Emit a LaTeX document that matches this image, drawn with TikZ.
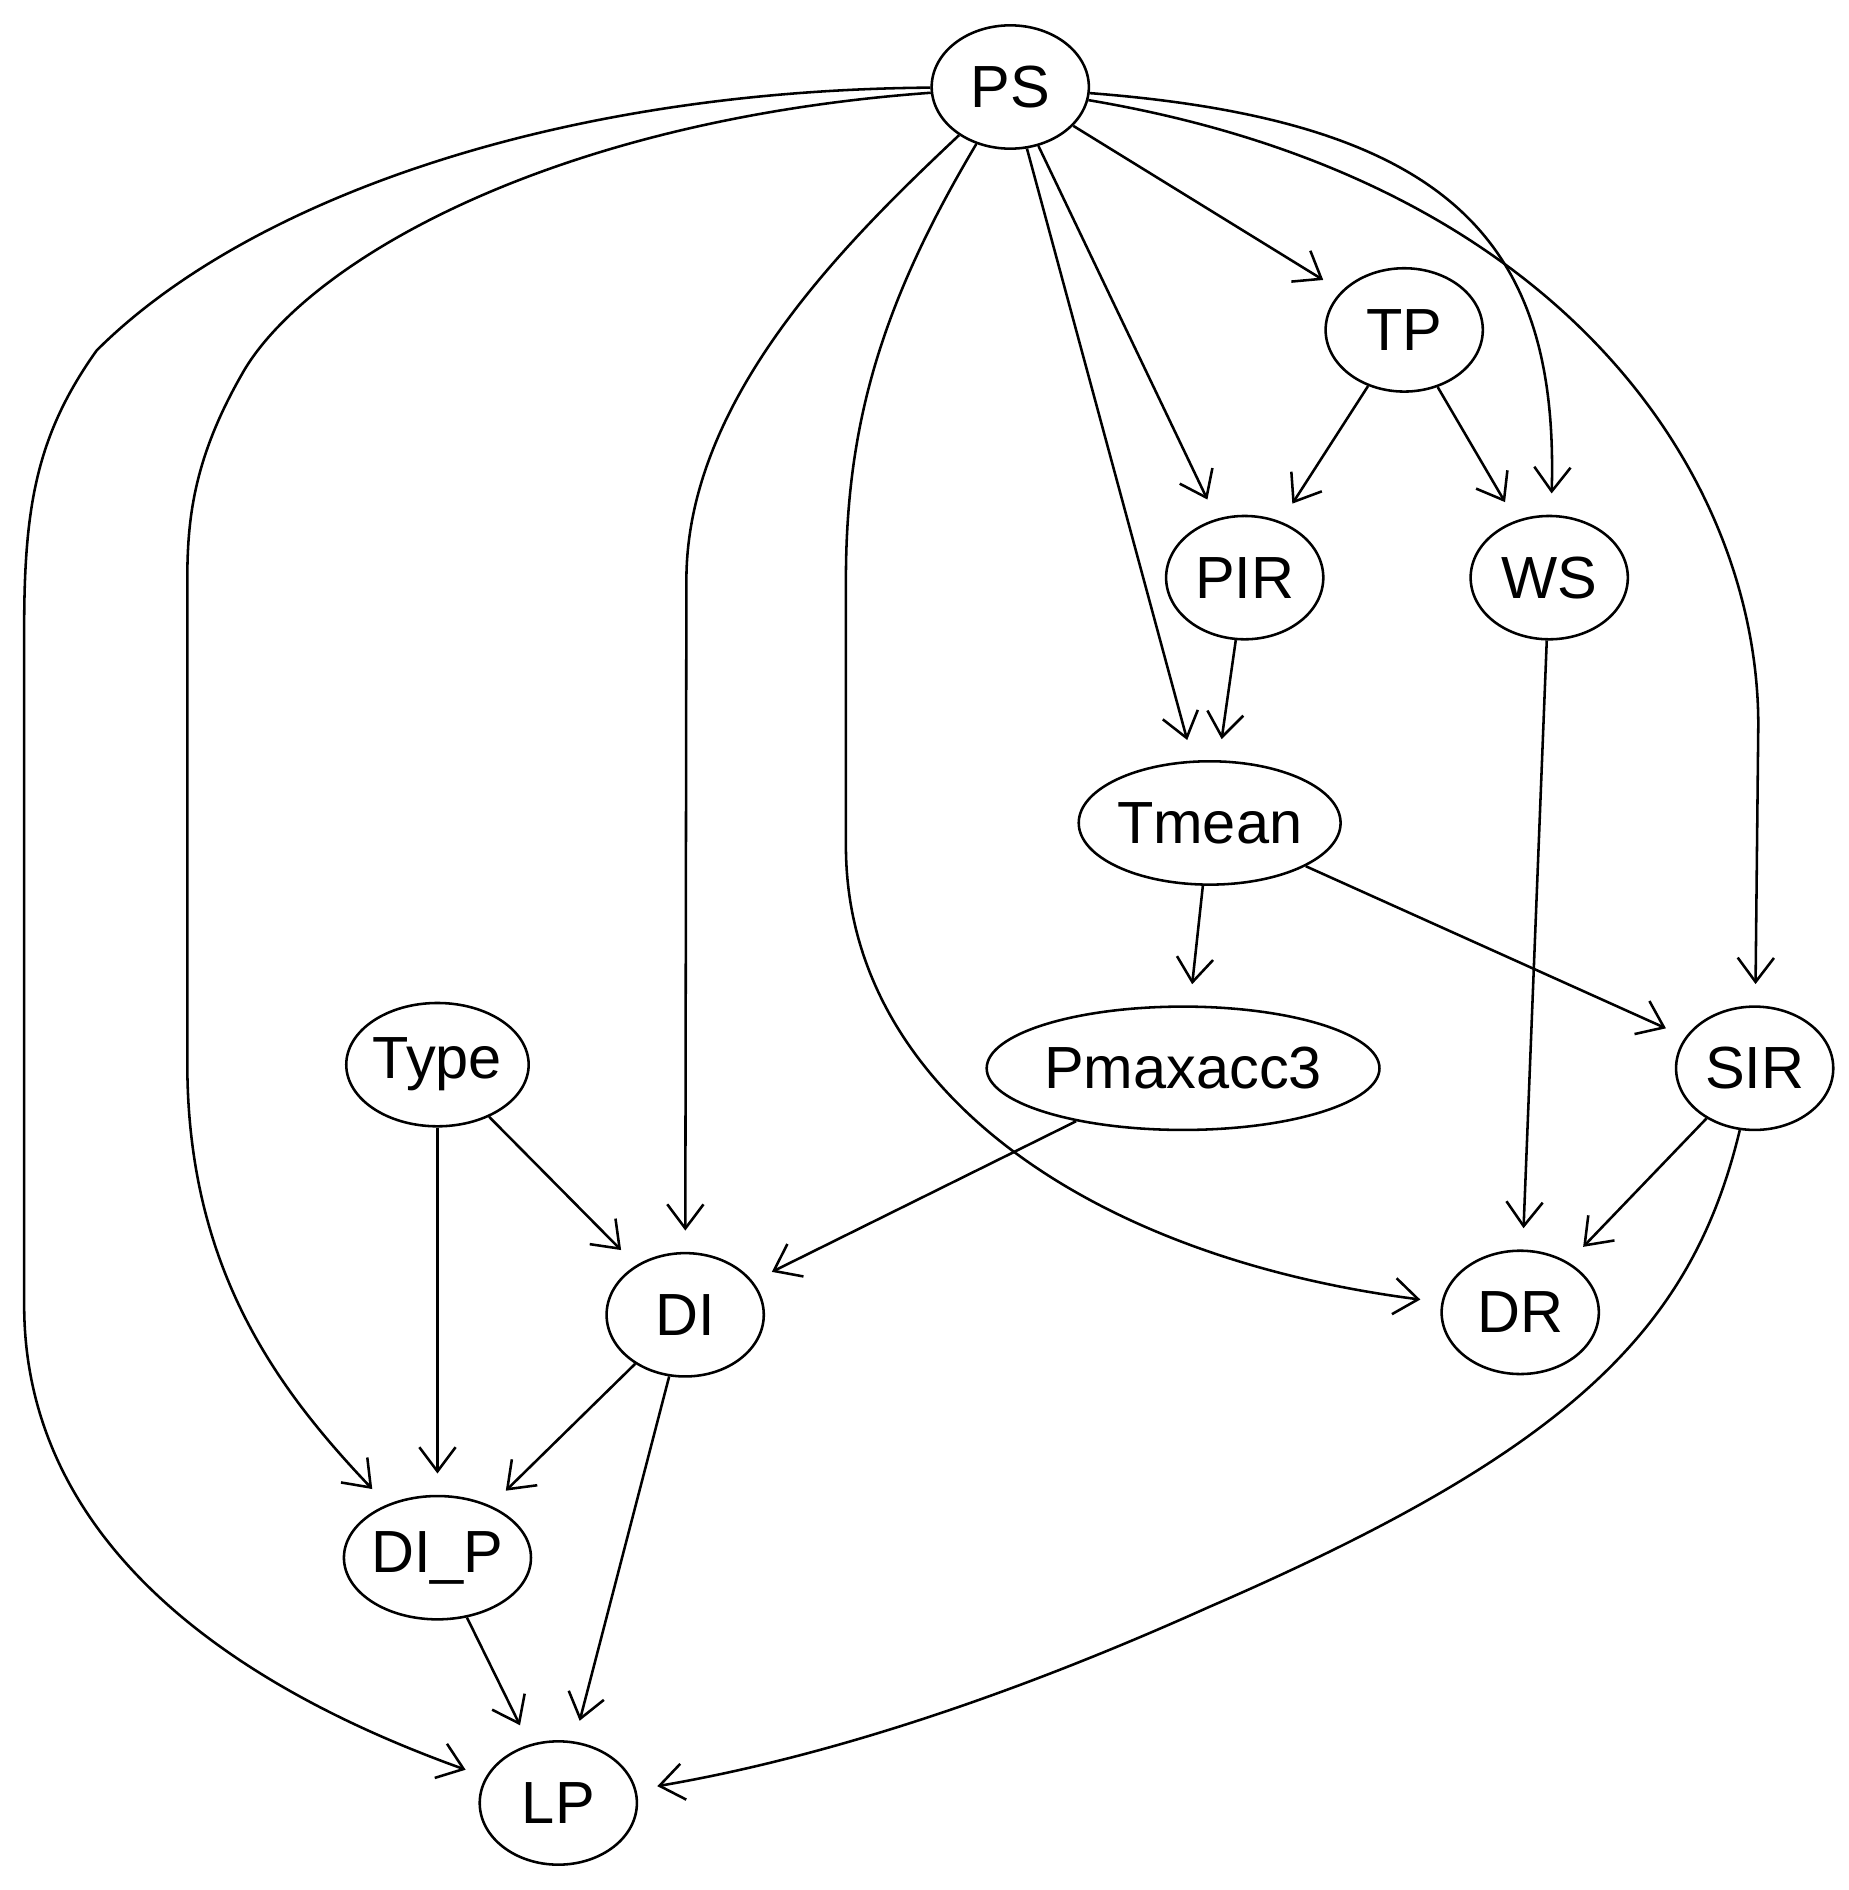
\documentclass[tikz,border=0pt]{standalone}
\usepackage{fontspec}
\setmainfont{Liberation Sans}
\usetikzlibrary{arrows.meta,shapes.geometric}
\begin{document}
\begin{tikzpicture}[x=0.01cm,y=-0.01cm,
  nd/.style={ellipse,draw,line width=0.6pt,minimum width=1.3cm,minimum height=1.02cm,inner sep=0pt,font=\fontsize{14}{16}\selectfont},
  ed/.style={line width=0.6pt,-{Straight Barb[length=0.2cm,width=0.3cm]},shorten >=5pt}]
\path (0,0) rectangle (1530,1564);
\node[nd] (PS) at (836,72) {PS};
\node[nd] (TP) at (1162,273) {TP};
\node[nd] (PIR) at (1030,478) {PIR};
\node[nd] (WS) at (1282,478) {WS};
\node[nd,minimum width=1.76cm] (Tmean) at (1001,681) {Tmean};
\node[nd,minimum width=1.44cm] (Type) at (362,881) {Type};
\node[nd,minimum width=2.4cm] (Pm) at (979,884) {Pmaxacc3};
\node[nd] (SIR) at (1452,884) {SIR};
\node[nd] (DI) at (567,1088) {DI};
\node[nd] (DR) at (1258,1086) {DR};
\node[nd] (DIP) at (362,1289) {DI\_P};
\node[nd] (LP) at (462,1492) {LP};
\draw[ed] (PS) .. controls (450,75) and (200,170) .. (80,290) .. controls (30,360) and (20,420) .. (20,520) -- (20,1080) .. controls (20,1250) and (150,1380) .. (LP);
\draw[ed] (PS) .. controls (450,100) and (250,220) .. (200,310) .. controls (160,380) and (155,430) .. (155,480) -- (155,880) .. controls (155,1050) and (230,1150) .. (DIP);
\draw[ed] (PS) .. controls (700,200) and (568,330) .. (568,480) -- (DI);
\draw[ed] (PS) .. controls (730,250) and (700,350) .. (700,480) -- (700,700) .. controls (700,900) and (900,1040) .. (DR);
\draw[ed] (PS) -- (TP);
\draw[ed] (PS) -- (PIR);
\draw[ed] (PS) -- (Tmean);
\draw[ed] (PS) .. controls (1200,100) and (1290,200) .. (WS);
\draw[ed] (PS) .. controls (1300,150) and (1455,400) .. (1455,600) -- (SIR);
\draw[ed] (TP) -- (PIR);
\draw[ed] (TP) -- (WS);
\draw[ed] (PIR) -- (Tmean);
\draw[ed] (WS) -- (DR);
\draw[ed] (Tmean) -- (Pm);
\draw[ed] (Tmean) -- (SIR);
\draw[ed] (Type) -- (DI);
\draw[ed] (Type) -- (DIP);
\draw[ed] (Pm) -- (DI);
\draw[ed] (SIR) -- (DR);
\draw[ed] (SIR) .. controls (1400,1100) and (1300,1200) .. (1000,1330) .. controls (800,1420) and (650,1460) .. (LP);
\draw[ed] (DI) -- (DIP);
\draw[ed] (DI) -- (LP);
\draw[ed] (DIP) -- (LP);
\end{tikzpicture}
\end{document}
